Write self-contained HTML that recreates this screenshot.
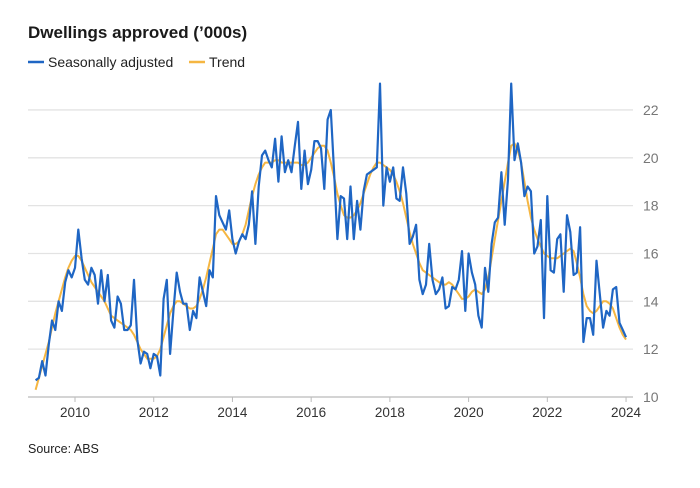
<!DOCTYPE html>
<html><head><meta charset="utf-8"><style>
body{margin:0;background:#fff;font-family:"Liberation Sans",sans-serif;}
#wrap{position:relative;width:700px;height:488px;overflow:hidden}
</style></head><body>
<div id="wrap">
<svg id="chart" width="700" height="488">
<text x="28" y="38" font-size="17" font-weight="bold" fill="#1a1a1a">Dwellings approved (’000s)</text>
<g>
<line x1="28" y1="62" x2="44" y2="62" stroke="#1f66c4" stroke-width="2.5"/>
<text x="48" y="67" font-size="14" fill="#222">Seasonally adjusted</text>
<line x1="189" y1="62" x2="205" y2="62" stroke="#f5b642" stroke-width="2.5"/>
<text x="209" y="67" font-size="14" fill="#222">Trend</text>
</g>
<g id="grid"></g><g id="lines"></g>
<text x="28" y="453" font-size="12.5" fill="#222">Source: ABS</text>
</svg></div>
<script>
const yTicks=[10,12,14,16,18,20,22];
const xTicks=[2010,2012,2014,2016,2018,2020,2022,2024];
const startYear=2009;
const seasonal=[10.7,10.8,11.5,10.9,12.2,13.2,12.8,14.0,13.6,14.8,15.3,15.0,
15.4,17.0,15.8,14.9,14.7,15.4,15.1,13.9,15.3,14.0,15.1,13.2,
12.9,14.2,13.9,12.8,12.8,13.0,14.9,12.4,11.4,11.9,11.8,11.2,
11.8,11.7,10.9,14.1,14.9,11.8,13.6,15.2,14.4,13.9,13.9,12.8,
13.6,13.3,15.0,14.4,13.8,15.3,15.0,18.4,17.6,17.3,17.0,17.8,
16.6,16.0,16.5,16.8,16.6,17.2,18.6,16.4,18.8,20.1,20.3,19.9,
19.6,20.8,19.0,20.9,19.4,19.9,19.4,20.5,21.5,18.7,20.3,18.9,
19.5,20.7,20.7,20.4,18.7,21.6,22.0,19.4,16.6,18.4,18.3,16.6,
18.8,16.6,18.2,17.0,18.6,19.3,19.4,19.5,19.6,23.1,18.0,19.6,
19.0,19.6,18.3,18.2,19.6,18.5,16.4,16.7,17.2,14.9,14.3,14.7,
16.4,14.9,14.3,14.5,15.0,13.7,13.8,14.6,14.5,14.9,16.1,13.6,
16.0,15.2,14.7,13.4,12.9,15.4,14.4,16.4,17.3,17.5,19.4,17.2,
19.1,23.1,19.9,20.6,19.8,18.4,18.8,18.6,16.0,16.3,17.4,13.3,
18.4,15.3,15.2,16.6,16.8,14.4,17.6,16.9,15.1,15.2,17.1,12.3,
13.3,13.3,12.6,15.7,14.3,12.9,13.6,13.4,14.5,14.6,13.1,12.8,
12.5];
const trend=[10.3,10.8,11.3,11.8,12.3,12.9,13.5,14.0,14.5,15.0,15.4,15.7,
15.9,15.9,15.7,15.4,15.1,14.8,14.6,14.4,14.2,14.0,13.7,13.4,
13.3,13.2,13.1,13.0,12.9,12.8,12.6,12.3,12.0,11.8,11.6,11.6,
11.6,11.7,12.0,12.5,13.0,13.5,13.8,14.0,14.0,13.9,13.8,13.7,
13.7,13.8,14.1,14.5,15.0,15.6,16.2,16.8,17.0,17.0,16.8,16.6,
16.4,16.4,16.5,16.8,17.2,17.8,18.4,18.9,19.3,19.6,19.8,19.8,
19.8,19.9,19.9,19.8,19.8,19.8,19.8,19.8,19.8,19.7,19.7,19.8,
20.0,20.2,20.4,20.5,20.5,20.3,19.8,19.2,18.5,18.0,17.6,17.5,
17.5,17.6,17.8,18.1,18.5,18.9,19.3,19.6,19.8,19.8,19.7,19.6,
19.5,19.3,19.0,18.6,18.1,17.5,16.9,16.4,16.0,15.6,15.3,15.2,
15.1,15.0,14.9,14.8,14.7,14.7,14.8,14.7,14.5,14.3,14.1,14.1,
14.2,14.4,14.5,14.4,14.3,14.5,15.0,15.8,16.6,17.4,18.2,19.0,
19.8,20.5,20.6,20.3,19.8,19.0,18.2,17.5,17.0,16.6,16.3,16.0,
15.9,15.8,15.8,15.8,15.9,16.0,16.1,16.2,16.1,15.6,15.0,14.3,
13.8,13.6,13.5,13.6,13.8,14.0,14.0,13.9,13.7,13.3,12.9,12.6,
12.4];
const NS='http://www.w3.org/2000/svg';
const xs=t=>75+(t-2010)*39.36;
const ys=v=>397-(v-10)*23.92;
const xm=i=>xs(startYear+i/12);
const grid=document.getElementById('grid');
yTicks.forEach(v=>{
 const l=document.createElementNS(NS,'line');
 l.setAttribute('x1',28);l.setAttribute('x2',633);l.setAttribute('y1',ys(v));l.setAttribute('y2',ys(v));
 l.setAttribute('stroke',v===10?'#bbb':'#e3e3e3');l.setAttribute('stroke-width',1.3);
 
 
 grid.appendChild(l);
 const t=document.createElementNS(NS,'text');
 t.setAttribute('x',643);t.setAttribute('y',ys(v)+5);t.setAttribute('font-size',14);t.setAttribute('fill','#777');
 t.textContent=v;
 
 
 grid.appendChild(t);
});
xTicks.forEach(y=>{
 const t=document.createElementNS(NS,'text');
 t.setAttribute('x',xs(y));t.setAttribute('y',417);t.setAttribute('font-size',13.5);t.setAttribute('fill','#333');t.setAttribute('text-anchor','middle');
 t.textContent=y;
 
 
 grid.appendChild(t);
 const k=document.createElementNS(NS,'line');
 k.setAttribute('x1',xs(y));k.setAttribute('x2',xs(y));k.setAttribute('y1',397);k.setAttribute('y2',402);k.setAttribute('stroke','#bbb');
 
 
 grid.appendChild(k);
});
const lines=document.getElementById('lines');
function path(arr,color,w,name){
 const p=document.createElementNS(NS,'path');
 p.setAttribute('d',arr.map((v,i)=>(i?'L':'M')+xm(i).toFixed(1)+','+ys(v).toFixed(1)).join(''));
 p.setAttribute('fill','none');p.setAttribute('stroke',color);p.setAttribute('stroke-width',w);p.setAttribute('stroke-linejoin','round');
 
 
 lines.appendChild(p);
}
path(trend,'#f5b642',2,'trend-line');
path(seasonal,'#1f66c4',2.2,'seasonally-adjusted-line');
</script>
</body></html>
